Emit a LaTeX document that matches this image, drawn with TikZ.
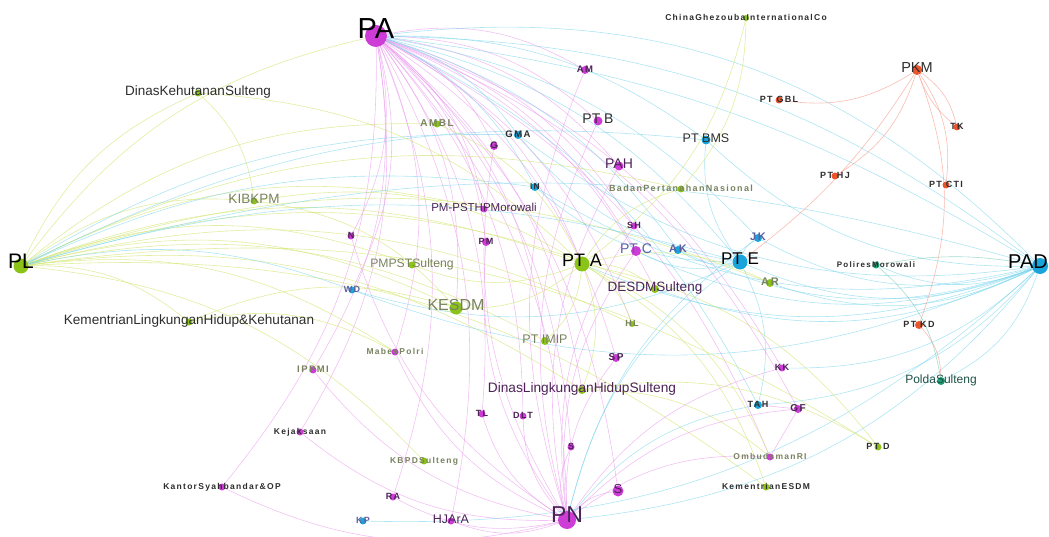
\documentclass[tikz,border=0pt]{standalone}
\usepackage{fontspec}
\setmainfont{Liberation Sans}
\newfontfamily\spf{Liberation Sans}[LetterSpace=15]
\usetikzlibrary{backgrounds}
\definecolor{cM}{RGB}{205,60,215}
\definecolor{cG}{RGB}{140,195,25}
\definecolor{cC}{RGB}{25,165,220}
\definecolor{cO}{RGB}{235,85,45}
\definecolor{cT}{RGB}{25,160,115}
\definecolor{edM}{RGB}{232,150,236}
\definecolor{edG}{RGB}{212,230,120}
\definecolor{edC}{RGB}{120,212,235}
\definecolor{edO}{RGB}{245,160,145}
\definecolor{edT}{RGB}{130,205,185}
\definecolor{lbD}{RGB}{45,45,45}
\definecolor{lbP}{RGB}{75,35,85}
\definecolor{lbO}{RGB}{120,130,95}
\definecolor{lbB}{RGB}{95,95,160}
\definecolor{lbT}{RGB}{30,80,70}
\newcommand\fntR[1]{\fontsize{#1}{#1}\selectfont}
\newcommand\fntS[1]{\spf\bfseries\fontsize{#1}{#1}\selectfont}
\newcommand\vtx[8]{%
  \node[dot,fill=#4,minimum size=#5pt] (#1) at (#2,#3) {};
  \node[lab,text=#8,font=#7] (#1-l) at (#2,#3) {#6};}
\tikzset{
  dot/.style={circle,inner sep=0pt,draw=none},
  lab/.style={inner sep=0pt,anchor=mid},
  eM/.style={draw=edM,line width=0.6pt,opacity=0.6,bend left=#1},
  eM/.default=20,
  eG/.style={draw=edG,line width=0.6pt,opacity=0.7,bend left=#1},
  eG/.default=20,
  eC/.style={draw=edC,line width=0.6pt,opacity=0.6,bend left=#1},
  eC/.default=20,
  eO/.style={draw=edO,line width=0.6pt,opacity=0.7,bend left=#1},
  eO/.default=20,
  eT/.style={draw=edT,line width=0.6pt,opacity=0.7,bend left=#1},
  eT/.default=20,
}
\begin{document}
\begin{tikzpicture}[x=1pt,y=-1pt]
\useasboundingbox (0,0) rectangle (1049,537);
% big hubs
\vtx{PA}{376}{36}{cM}{22}{PA}{\fntR{29}}{black}
\vtx{PN}{567}{520}{cM}{18}{PN}{\fntR{23}}{lbP}
\vtx{PL}{21}{266}{cG}{15}{PL}{\fntR{21}}{black}
\node[dot,fill=cC,minimum size=16pt] (PAD) at (1040,266) {};
\node[lab,text=black,font=\fntR{20},anchor=mid east] (PAD-l) at (1048,266) {PAD};
\vtx{PTA}{582}{264}{cG}{15}{PT A}{\fntR{18}}{black}
\vtx{PTE}{740}{262}{cC}{15}{PT E}{\fntR{17}}{black}
\vtx{KESDM}{456}{308}{cG}{13}{KESDM}{\fntR{16}}{lbO}
% medium
\vtx{PKM}{917}{70}{cO}{10}{PKM}{\fntR{14.5}}{lbD}
\vtx{DKS}{198}{93}{cG}{7}{DinasKehutananSulteng}{\fntR{13.5}}{lbD}
\vtx{KIBKPM}{254}{201}{cG}{7}{KIBKPM}{\fntR{13.5}}{lbO}
\vtx{PTB}{598}{121}{cM}{9}{PT B}{\fntR{14}}{lbD}
\vtx{PAH}{619}{166}{cM}{9}{PAH}{\fntR{14}}{lbP}
\vtx{PTBMS}{706}{140}{cC}{9}{PT BMS}{\fntR{12.5}}{lbD}
\vtx{PTC}{636}{251}{cM}{10}{PT C}{\fntR{14}}{lbB}
\vtx{PMPSTS}{412}{265}{cG}{7}{PMPSTSulteng}{\fntR{12.2}}{lbO}
\vtx{PMP}{484}{209}{cM}{7}{PM-PSTHPMorowali}{\fntR{11.5}}{lbP}
\vtx{DESDM}{655}{289}{cG}{8}{DESDMSulteng}{\fntR{13.5}}{lbP}
\vtx{PTIMIP}{545}{341}{cG}{8}{PT IMIP}{\fntR{12.5}}{lbO}
\vtx{DLHS}{582}{390}{cG}{8}{DinasLingkunganHidupSulteng}{\fntR{13.7}}{lbP}
\vtx{KLHK}{189}{322}{cG}{7}{KementrianLingkunganHidup\&Kehutanan}{\fntR{13.6}}{lbD}
\vtx{Polda}{941}{381}{cT}{8}{PoldaSulteng}{\fntR{12}}{lbT}
\vtx{HJArA}{451}{521}{cM}{7}{HJArA}{\fntR{12.5}}{lbP}
% small
\vtx{China}{746}{18}{cG}{6}{ChinaGhezoubaInternationalCo}{\fntS{8.5}}{lbD}
\vtx{PTGBL}{779}{100}{cO}{7}{PT GBL}{\fntS{9}}{lbD}
\vtx{PTHJ}{835}{176}{cO}{7}{PT HJ}{\fntS{9}}{lbD}
\vtx{PTCTI}{946}{185}{cO}{7}{PT CTI}{\fntS{9}}{lbD}
\vtx{TK}{957}{127}{cO}{7}{TK}{\fntS{9}}{lbD}
\vtx{PTKD}{919}{325}{cO}{8}{PT KD}{\fntS{9}}{lbD}
\vtx{PTD}{878}{447}{cG}{7}{PT D}{\fntS{9}}{lbD}
\vtx{Polires}{876}{265}{cT}{7}{PoliresMorowali}{\fntS{8}}{lbD}
\vtx{BPN}{681}{189}{cG}{7}{BadanPertanahanNasional}{\fntS{9}}{lbO}
\vtx{Ombud}{770}{457}{cM}{7}{OmbudsmanRI}{\fntS{8.5}}{lbO}
\vtx{KemESDM}{766}{487}{cG}{7}{KementrianESDM}{\fntS{8.5}}{lbD}
\vtx{KBPD}{424}{461}{cG}{7}{KBPDSulteng}{\fntS{8.5}}{lbO}
\vtx{Mabes}{395}{352}{cM}{7}{MabesPolri}{\fntS{8.5}}{lbO}
\vtx{IPPMI}{313}{370}{cM}{7}{IPPMI}{\fntS{9.5}}{lbO}
\vtx{Kejak}{300}{432}{cM}{7}{Kejaksaan}{\fntS{8.5}}{lbD}
\vtx{Kantor}{222}{487}{cM}{7}{KantorSyahbandar\&OP}{\fntS{8.5}}{lbD}
\vtx{AMBL}{437}{124}{cG}{7}{AMBL}{\fntS{10}}{lbO}
\vtx{AM}{585}{70}{cM}{8}{AM}{\fntS{9.5}}{lbP}
\vtx{GMA}{518}{135}{cC}{8}{GMA}{\fntS{9.5}}{lbD}
\vtx{G}{494}{146}{cM}{8}{G}{\fntS{9.5}}{lbP}
\vtx{IN}{535}{187}{cC}{8}{IN}{\fntS{8.5}}{lbD}
\vtx{SH}{634}{226}{cM}{7}{SH}{\fntS{9}}{lbP}
\vtx{N}{351}{236}{cM}{7}{N}{\fntS{9}}{lbP}
\vtx{PM}{486}{242}{cM}{8}{PM}{\fntS{9}}{lbP}
\vtx{AK}{678}{250}{cC}{8}{AK}{\fntS{11}}{lbB}
\vtx{JK}{758}{238}{cC}{8}{JK}{\fntS{11}}{lbB}
\vtx{WD}{352}{290}{cC}{7}{WD}{\fntS{9}}{lbB}
\vtx{AR}{770}{283}{cG}{8}{AR}{\fntS{11}}{lbO}
\vtx{HL}{632}{324}{cG}{6}{HL}{\fntS{9}}{lbO}
\vtx{SP}{616}{358}{cM}{8}{SP}{\fntS{10}}{lbP}
\vtx{KK}{782}{368}{cM}{7}{KK}{\fntS{9}}{lbP}
\vtx{TL}{482}{414}{cM}{7}{TL}{\fntS{9}}{lbP}
\vtx{DLT}{523}{416}{cM}{7}{DLT}{\fntS{9}}{lbP}
\vtx{TAH}{758}{405}{cC}{8}{TAH}{\fntS{9}}{lbD}
\vtx{GF}{798}{409}{cM}{8}{GF}{\fntS{10}}{lbP}
\vtx{S1}{571}{447}{cM}{7}{S}{\fntS{9}}{lbP}
\vtx{RA}{393}{497}{cM}{7}{RA}{\fntS{9}}{lbP}
\vtx{KP}{363}{521}{cC}{7}{KP}{\fntS{9}}{lbB}
\vtx{S2}{618}{491}{cM}{11}{S}{\fntR{13}}{lbP}
% edges
\begin{scope}[on background layer]
\foreach \t in {AM,PTB,G,PAH,SH,PMP,PM,N,PTC,SP,KK,GF,TL,DLT,S1,S2,Mabes,IPPMI,Kejak,Kantor,RA,HJArA,PN,Ombud,PTA,KESDM,PTIMIP,DLHS,DESDM,HL,WD}
  \draw[eM] (PA) to (\t);
\foreach \t in {PAD,PTE,PTBMS,GMA,JK,IN,AK,TAH}
  \draw[eC=18] (PA) to (\t);
\draw[eC=12] (PA) to (PAD);
\draw[eC=26] (PA) to (PAD);
\foreach \t in {DKS,KIBKPM,AMBL,PMPSTS,KESDM,PTA,PTIMIP,KLHK,Mabes,DESDM,HL,AR,BPN,DLHS,KBPD,PTD,KemESDM,PA,PMP}
  \draw[eG] (PL) to (\t);
\foreach \t in {PTE,PAD,WD,IN,GMA,PTBMS}
  \draw[eC=16] (PL) to (\t);
\foreach \t in {S2,S1,TL,DLT,RA,HJArA,Kantor,Kejak,G,PM,N,SP,KK,GF,PTC,SH,PAH,AM,PTB,IPPMI,Mabes,Ombud}
  \draw[eM] (PN) to (\t);
\foreach \t in {TAH,PTE,JK}
  \draw[eC] (PN) to (\t);
\draw[eC=22] (PAD) to (PN);
\foreach \t in {PTE,PTBMS,JK,AK,IN,GMA,TAH,Polires,Polda,KP,WD,PTC,AR,KK,DESDM,PTA}
  \draw[eC=22] (PAD) to (\t);
\foreach \t in {JK,AK,TAH,PTBMS,GMA,IN,WD,PTC}
  \draw[eC] (PTE) to (\t);
\foreach \t in {PTGBL,PTHJ,TK,PTCTI,PTKD}
  \draw[eO] (PKM) to (\t);
\draw[eO=-15] (PKM) to (TK);
\draw[eO=10] (PKM) to (PTE);
\draw[eO] (PTKD) to (Polda);
\draw[eT] (Polires) to (Polda);
\draw[eT=10] (Polires) to (PAD);
\draw[eG] (China) to (PTA);
\draw[eG] (China) to (BPN);
\foreach \t in {KESDM,PMPSTS,DESDM,HL,PTIMIP,DLHS,PTD,KemESDM,BPN,AR,Ombud}
  \draw[eG] (PTA) to (\t);
\foreach \t in {KESDM,Mabes}
  \draw[eG] (KLHK) to (\t);
\draw[eG] (DKS) to (KIBKPM);
\draw[eG] (DKS) to (PTA);
\draw[eG] (KIBKPM) to (PTA);
\draw[eG] (KIBKPM) to (KESDM);
\draw[eG] (AMBL) to (PTA);
\draw[eG] (DLHS) to (PTD);
\draw[eG] (DLHS) to (Ombud);
\draw[eM=0] (GF) to (Ombud);
\draw[eM=0] (TAH) to (GF);
\end{scope}
\end{tikzpicture}
\end{document}
